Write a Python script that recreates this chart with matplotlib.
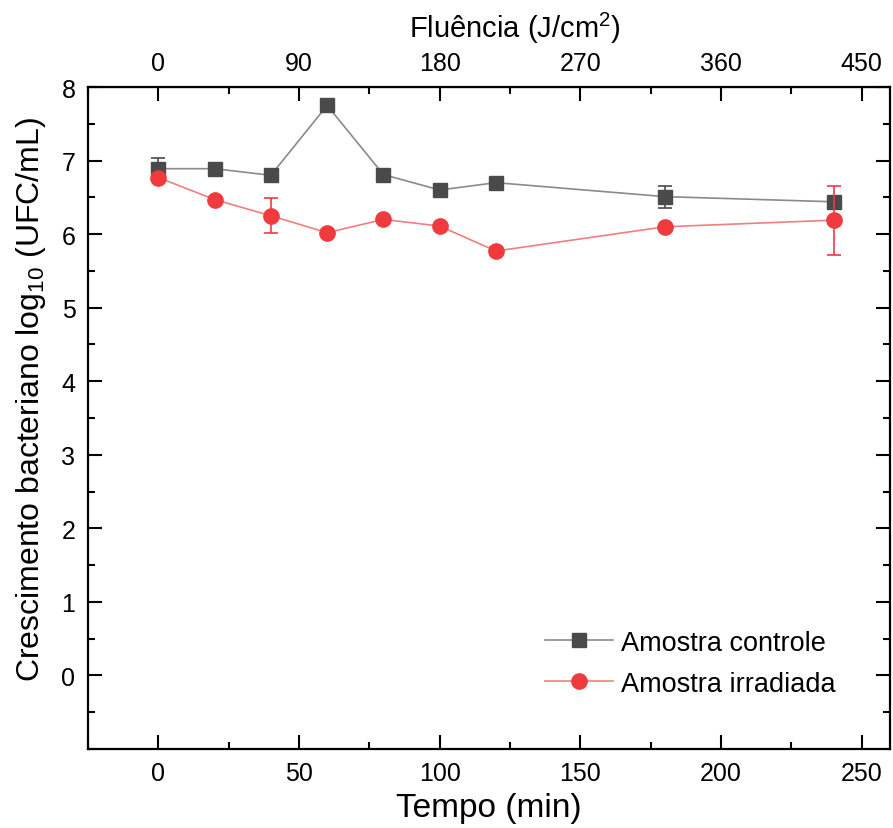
import matplotlib
matplotlib.use("Agg")
import matplotlib.pyplot as plt
from matplotlib.ticker import MultipleLocator

plt.rcParams['font.family'] = ['Liberation Sans', 'DejaVu Sans']
plt.rcParams['mathtext.fontset'] = 'custom'
plt.rcParams['mathtext.rm'] = 'Liberation Sans'
plt.rcParams['mathtext.it'] = 'Liberation Sans'
plt.rcParams['mathtext.default'] = 'regular'

# tempo (min) e crescimento log10 UFC/mL
tempo = [0, 20, 40, 60, 80, 100, 120, 180, 240]
controle = [6.89, 6.89, 6.80, 7.75, 6.81, 6.60, 6.70, 6.51, 6.44]
controle_err = [0.14, 0.02, 0.02, 0.02, 0.02, 0.02, 0.02, 0.15, 0.05]
irradiada = [6.77, 6.47, 6.25, 6.02, 6.20, 6.11, 5.77, 6.10, 6.19]
irradiada_err = [0.05, 0.02, 0.24, 0.02, 0.02, 0.02, 0.05, 0.02, 0.47]

fluencia_por_min = 1.8  # J/cm2 por minuto
fluencia_ticks = [0, 90, 180, 270, 360, 450]
y_ticks = [0, 1, 2, 3, 4, 5, 6, 7, 8]

fig = plt.figure(figsize=(8.93, 8.29), dpi=100)
ax = fig.add_axes([0.0985, 0.0953, 0.898, 0.7985])

c1 = ax.errorbar(tempo, controle, yerr=controle_err, color='#8a8a8a', lw=1.2,
                 marker='s', ms=10, mfc='#4a4a4a', mec='#4a4a4a',
                 ecolor='#4a4a4a', elinewidth=1.2, capsize=5, capthick=1.2,
                 zorder=3)
c2 = ax.errorbar(tempo, irradiada, yerr=irradiada_err, color='#f07f7f', lw=1.2,
                 marker='o', ms=11, mfc='#ef3b3e', mec='#ef3b3e',
                 ecolor='#ef3b3e', elinewidth=1.2, capsize=5, capthick=1.2,
                 zorder=4)

ax.set_xlim(-25, 260)
ax.set_ylim(-1, 8)
ax.xaxis.set_major_locator(MultipleLocator(50))
ax.xaxis.set_minor_locator(MultipleLocator(25))
ax.set_yticks(y_ticks)
ax.yaxis.set_minor_locator(MultipleLocator(0.5))
ax.tick_params(which='both', direction='in', right=True, width=1.5)
ax.tick_params(which='major', length=10, labelsize=18, pad=9)
ax.tick_params(which='minor', length=5)
ax.tick_params(axis='x', which='both', top=False)
for s in ax.spines.values():
    s.set_linewidth(1.6)

ax.set_xlabel('Tempo (min)', fontsize=24, labelpad=5)
ax.set_ylabel(r'Crescimento bacteriano log$_{10}$ (UFC/mL)', fontsize=23, labelpad=10)
ax.yaxis.label.set_y(0.53)

sec = ax.secondary_xaxis('top', functions=(lambda t: t * fluencia_por_min,
                                           lambda f: f / fluencia_por_min))
sec.set_xticks(fluencia_ticks)
sec.xaxis.set_minor_locator(MultipleLocator(45))
sec.tick_params(which='both', direction='in', width=1.5)
sec.tick_params(which='major', length=10, labelsize=18, pad=9)
sec.tick_params(which='minor', length=5)
sec.set_xlabel(r'Fluência (J/cm$^2$)', fontsize=21, labelpad=10)
sec.xaxis.label.set_x(0.532)

ax.legend([c1[0], c2[0]], ['Amostra controle', 'Amostra irradiada'],
          loc='lower right', bbox_to_anchor=(0.963, 0.042), frameon=False,
          fontsize=19.5, handlelength=2.5, handletextpad=0.3,
          labelspacing=0.55)

fig.savefig('out.png', dpi=100)
